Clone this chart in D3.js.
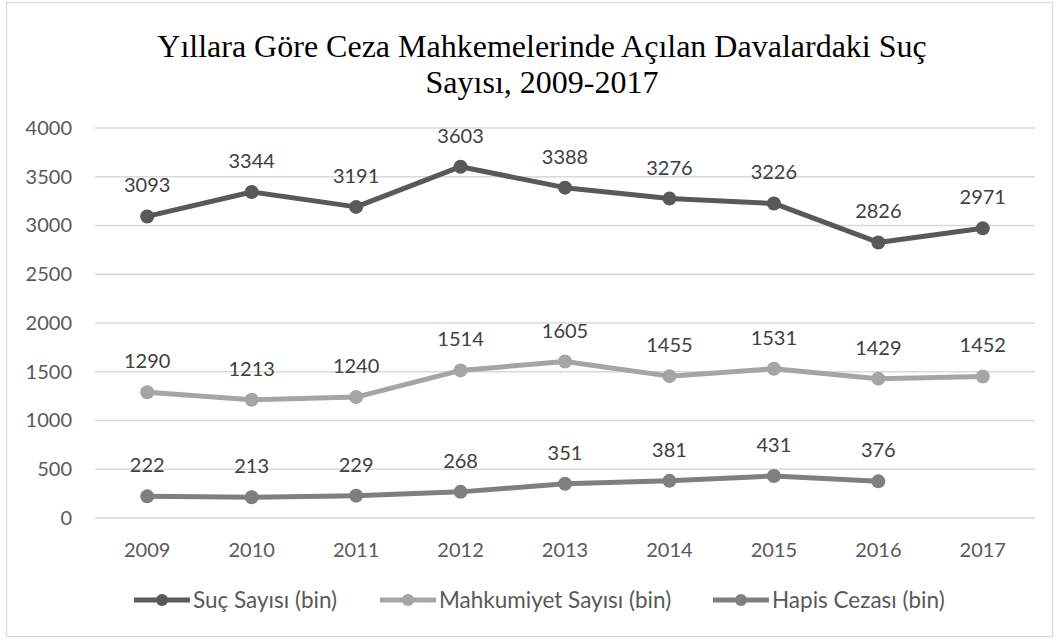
<!DOCTYPE html>
<html>
<head>
<meta charset="utf-8">
<script src="https://cdn.jsdelivr.net/npm/d3@7"></script>
<style>
  body { margin: 0; background: #fff; }
  text { font-family: Lato, "Open Sans", sans-serif; }
  text.title, text.title tspan { font-family: "Liberation Serif", "Times New Roman", serif; }
</style>
</head>
<body>
<div id="chart"></div>
<script>
var years = ['2009', '2010', '2011', '2012', '2013', '2014', '2015', '2016', '2017'];
var sucSayisi = [3093, 3344, 3191, 3603, 3388, 3276, 3226, 2826, 2971];
var mahkumiyetSayisi = [1290, 1213, 1240, 1514, 1605, 1455, 1531, 1429, 1452];
var hapisCezasi = [222, 213, 229, 268, 351, 381, 431, 376, null];
var yTicks = [0, 500, 1000, 1500, 2000, 2500, 3000, 3500, 4000];
var seriesNames = ['Suç Sayısı (bin)', 'Mahkumiyet Sayısı (bin)', 'Hapis Cezası (bin)'];
var seriesColors = ['#595959', '#a5a5a5', '#7f7f7f'];

var series = [sucSayisi, mahkumiyetSayisi, hapisCezasi].map((vals, i) => ({
    name: seriesNames[i],
    color: seriesColors[i],
    points: vals.map((v, j) => ({ year: years[j], value: v })).filter(p => p.value !== null)
}));

var svg = d3.select('#chart')
            .append('svg')
            .attr('width', 1058)
            .attr('height', 641);

svg.append('rect')
   .attr('x', 6.5)
   .attr('y', 2.5)
   .attr('width', 1046)
   .attr('height', 634)
   .attr('fill', '#fff')
   .attr('stroke', '#d9d9d9')
   .attr('stroke-width', 1.3);

// title
var title = svg.append('text')
   .attr('class', 'title')
   .attr('text-anchor', 'middle')
   .style('font-size', '32px')
   .attr('fill', '#000');
title.append('tspan').attr('x', 542).attr('y', 57).text('Yıllara Göre Ceza Mahkemelerinde Açılan Davalardaki Suç');
title.append('tspan').attr('x', 542).attr('y', 93).text('Sayısı, 2009-2017');

var x = d3.scaleBand()
          .domain(years)
          .range([95, 1035]);

var y = d3.scaleLinear()
          .domain([0, 4000])
          .range([518, 128]);

// gridlines
svg.append('g')
   .selectAll('line')
   .data(yTicks)
   .enter()
   .append('line')
   .attr('x1', 95)
   .attr('x2', 1035)
   .attr('y1', d => y(d))
   .attr('y2', d => y(d))
   .attr('stroke', '#d9d9d9')
   .attr('stroke-width', 1.5);

var yAxis = svg.append('g')
   .attr('transform', 'translate(72,0)')
   .call(d3.axisLeft(y).tickValues(yTicks).tickFormat(d3.format('d')).tickSize(0).tickPadding(0));
yAxis.select('.domain').remove();
yAxis.selectAll('text')
     .style('font-family', 'Lato, "Open Sans", sans-serif')
     .style('font-size', '20px')
     .attr('fill', '#595959');

var xAxis = svg.append('g')
   .attr('transform', 'translate(0,518)')
   .call(d3.axisBottom(x).tickSize(0).tickPadding(0));
xAxis.select('.domain').remove();
xAxis.selectAll('text')
     .attr('dy', null)
     .attr('y', 39)
     .style('font-family', 'Lato, "Open Sans", sans-serif')
     .style('font-size', '20px')
     .attr('fill', '#595959');

var cx = d => x(d.year) + x.bandwidth() / 2;

var line = d3.line()
             .x(cx)
             .y(d => y(d.value));

series.forEach(s => {
    var g = svg.append('g');
    g.append('path')
     .datum(s.points)
     .attr('fill', 'none')
     .attr('stroke', s.color)
     .attr('stroke-width', 5)
     .attr('stroke-linejoin', 'round')
     .attr('d', line);

    g.selectAll('circle')
     .data(s.points)
     .enter()
     .append('circle')
     .attr('cx', cx)
     .attr('cy', d => y(d.value))
     .attr('r', 7)
     .attr('fill', s.color);

    g.selectAll('.label')
     .data(s.points)
     .enter()
     .append('text')
     .attr('class', 'label')
     .attr('x', cx)
     .attr('y', d => y(d.value) - 24)
     .attr('text-anchor', 'middle')
     .style('font-size', '20px')
     .attr('fill', '#404040')
     .text(d => d.value);
});

// legend
var legendX = [134, 380, 713];
var legend = svg.append('g');
series.forEach((s, i) => {
    var lx = legendX[i];
    legend.append('line')
          .attr('x1', lx)
          .attr('x2', lx + 56)
          .attr('y1', 600)
          .attr('y2', 600)
          .attr('stroke', s.color)
          .attr('stroke-width', 5);
    legend.append('circle')
          .attr('cx', lx + 28)
          .attr('cy', 600)
          .attr('r', 6)
          .attr('fill', s.color);
    legend.append('text')
          .attr('x', lx + 59)
          .attr('y', 608)
          .style('font-size', '22.5px')
          .attr('fill', '#595959')
          .text(s.name);
});
</script>
</body>
</html>
